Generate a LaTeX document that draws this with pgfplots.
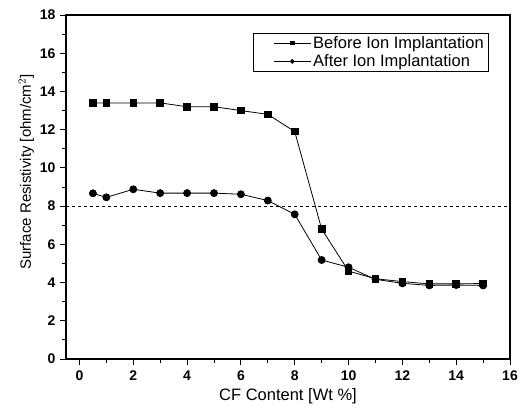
\documentclass[border=0pt]{standalone}
\usepackage{pgfplots}
\pgfplotsset{compat=1.18}
\usepackage{fontspec}
\setmainfont{Liberation Sans}
\begin{document}
\begin{tikzpicture}
\begin{axis}[
  scale only axis, width=444pt, height=344pt,
  xmin=-0.5, xmax=16, ymin=0, ymax=18,
  xtick={0,2,...,16}, ytick={0,2,...,18},
  minor x tick num=1, minor y tick num=1,
  tick align=outside, tick pos=left,
  major tick length=6pt, minor tick length=3.5pt,
  every tick/.style={black, line width=0.9pt},
  axis line style={line width=1.1pt},
  /pgf/number format/assume math mode=true,
  xticklabel style={font=\fontsize{14}{16}\selectfont\bfseries, yshift=-2pt},
  yticklabel style={font=\fontsize{14}{16}\selectfont\bfseries, xshift=-1pt},
  xlabel={\fontsize{16.5}{19}\selectfont CF Content [Wt \%]},
  ylabel={\fontsize{15}{17}\selectfont Surface Resistivity [ohm/cm$^2$]},
  xlabel style={yshift=-1pt},
  ylabel style={yshift=-1pt, xshift=15pt},
  legend style={at={(0.953,0.948)}, anchor=north east, font=\fontsize{16.5}{19}\selectfont,
    draw=black, line width=0.7pt, inner xsep=3pt, inner ysep=1pt, row sep=1pt},
  legend image code/.code={\path[draw=none] (-0.6cm,-0.05cm) rectangle (1.3cm,0.05cm); \draw[mark repeat=2,mark phase=2,#1,mark size=1.9pt] plot coordinates {(0cm,0cm)(0.65cm,0cm)(1.3cm,0cm)};},
  legend cell align=left,
]
\addplot[black, line width=0.8pt, mark=square*, mark size=3.3pt, mark options={solid}] coordinates {
(0.5,13.4)(1,13.4)(2,13.4)(3,13.4)(4,13.2)(5,13.2)(6,13.0)(7,12.8)(8,11.9)(9,6.8)(10,4.6)(11,4.2)(12,4.05)(13,3.93)(14,3.93)(15,3.95)};
\addlegendentry{Before Ion Implantation}
\addplot[black, line width=0.8pt, mark=*, mark size=3.5pt, mark options={solid}] coordinates {
(0.5,8.67)(1,8.46)(2,8.88)(3,8.68)(4,8.68)(5,8.68)(6,8.62)(7,8.29)(8,7.57)(9,5.18)(10,4.80)(11,4.17)(12,3.96)(13,3.85)(14,3.87)(15,3.85)};
\addlegendentry{After Ion Implantation}
\addplot[black, dashed, line width=0.9pt, forget plot] coordinates {(-0.5,8)(16,8)};
\end{axis}
\path (current axis.south west) ++(-66pt,-59pt) coordinate (bbA);
\path (current axis.north east) ++(16pt,15pt) coordinate (bbB);
\useasboundingbox (bbA) rectangle (bbB);
\end{tikzpicture}
\end{document}
